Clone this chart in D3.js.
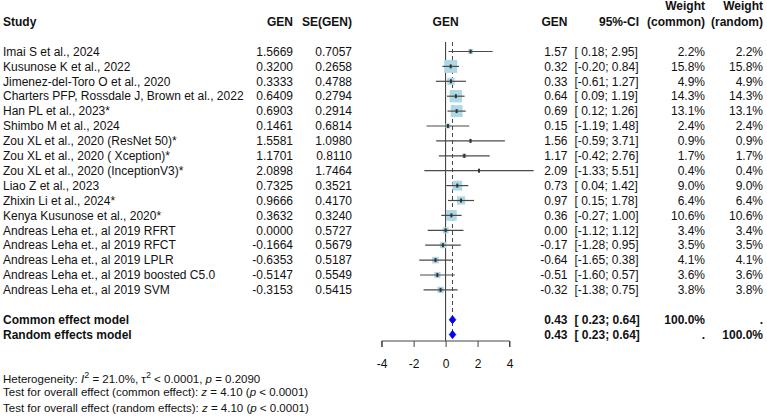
<!DOCTYPE html>
<html>
<head>
<meta charset="utf-8">
<script src="https://cdn.jsdelivr.net/npm/d3@7"></script>
<style>
body { margin: 0; background: #fff; }
svg text { font-family: "Liberation Sans", Arial, sans-serif; fill: #111; }
.b { font-weight: bold; }
</style>
</head>
<body>
<svg id="chart" width="767" height="416"></svg>
<script>
// study data
var studies = ["Imai S et al., 2024", "Kusunose K et al., 2022", "Jimenez-del-Toro O et al., 2020",
    "Charters PFP, Rossdale J, Brown et al., 2022", "Han PL et al., 2023*", "Shimbo M et al., 2024",
    "Zou XL et al., 2020 (ResNet 50)*", "Zou XL et al., 2020 ( Xception)*", "Zou XL et al., 2020 (InceptionV3)*",
    "Liao Z et al., 2023", "Zhixin Li et al., 2024*", "Kenya Kusunose et al., 2020*",
    "Andreas Leha et., al 2019 RFRT", "Andreas Leha et., al 2019 RFCT", "Andreas Leha et., al 2019 LPLR",
    "Andreas Leha et., al 2019 boosted C5.0", "Andreas Leha et., al 2019 SVM"];
var gen = [1.5669, 0.3200, 0.3333, 0.6409, 0.6903, 0.1461, 1.5581, 1.1701, 2.0898,
    0.7325, 0.9666, 0.3632, 0.0000, -0.1664, -0.6353, -0.5147, -0.3153];
var se = [0.7057, 0.2658, 0.4788, 0.2794, 0.2914, 0.6814, 1.0980, 0.8110, 1.7464,
    0.3521, 0.4170, 0.3240, 0.5727, 0.5679, 0.5187, 0.5549, 0.5415];
var lower = [0.18, -0.20, -0.61, 0.09, 0.12, -1.19, -0.59, -0.42, -1.33,
    0.04, 0.15, -0.27, -1.12, -1.28, -1.65, -1.60, -1.38];
var upper = [2.95, 0.84, 1.27, 1.19, 1.26, 1.48, 3.71, 2.76, 5.51,
    1.42, 1.78, 1.00, 1.12, 0.95, 0.38, 0.57, 0.75];
var wCommon = [2.2, 15.8, 4.9, 14.3, 13.1, 2.4, 0.9, 1.7, 0.4, 9.0, 6.4, 10.6, 3.4, 3.5, 4.1, 3.6, 3.8];
var wRandom = [2.2, 15.8, 4.9, 14.3, 13.1, 2.4, 0.9, 1.7, 0.4, 9.0, 6.4, 10.6, 3.4, 3.5, 4.1, 3.6, 3.8];
var models = ["Common effect model", "Random effects model"];
var modelEst = [0.43, 0.43];
var modelLower = [0.23, 0.23];
var modelUpper = [0.64, 0.64];
var modelWCommon = ["100.0%", "."];
var modelWRandom = [".", "100.0%"];
var xTicks = [-4, -2, 0, 2, 4];

var svg = d3.select("#chart");
var f2 = d3.format(".2f");
var f4 = d3.format(".4f");
function fmt(v, f) { return f(v).replace("\u2212", "-"); }
function ci(lo, hi) {
    var a = fmt(lo, f2), b = fmt(hi, f2);
    return "[" + (lo < 0 ? "" : " ") + a + "; " + b + "]";
}

var x = d3.scaleLinear().domain([-4, 4]).range([381.7, 509.5]);
var y = d3.scaleLinear().domain([0, 1]).range([51.5, 66.4]);
var size = d3.scaleSqrt().domain([0, 15.8]).range([0, 13]);

var col = {study: 3, gen: 293, se: 352, gen2: 567.5, ci: 574.5, wc: 705, wr: 763};
var fs = 12;

function txt(xp, yp, s, anchor, bold) {
    return svg.append("text")
        .attr("x", xp).attr("y", yp).attr("dy", "0.35em")
        .attr("text-anchor", anchor || "start")
        .attr("class", bold ? "b" : null)
        .style("font-size", fs + "px")
        .text(s);
}

// headers
txt(col.study, 22, "Study", "start", true);
txt(col.gen, 22, "GEN", "end", true);
txt(col.se, 22, "SE(GEN)", "end", true);
txt(x(0), 22, "GEN", "middle", true);
txt(col.gen2, 22, "GEN", "end", true);
txt(639, 22, "95%-CI", "end", true);
txt(col.wc, 6, "Weight", "end", true);
txt(col.wc, 22, "(common)", "end", true);
txt(col.wr, 6, "Weight", "end", true);
txt(col.wr, 22, "(random)", "end", true);

// reference lines
svg.append("line")
    .attr("x1", x(0)).attr("x2", x(0)).attr("y1", 42).attr("y2", 341)
    .attr("stroke", "#333").attr("stroke-width", 1);
svg.append("line")
    .attr("x1", x(modelEst[0])).attr("x2", x(modelEst[0])).attr("y1", 42).attr("y2", 338)
    .attr("stroke", "#444").attr("stroke-width", 1).attr("stroke-dasharray", "4,3");

// study rows
studies.forEach(function (s, i) {
    var yc = y(i);
    txt(col.study, yc, s);
    txt(col.gen, yc, fmt(gen[i], f4), "end");
    txt(col.se, yc, fmt(se[i], f4), "end");
    txt(col.gen2, yc, fmt(gen[i], f2), "end");
    txt(col.ci, yc, ci(lower[i], upper[i]), "start");
    txt(col.wc, yc, wCommon[i].toFixed(1) + "%", "end");
    txt(col.wr, yc, wRandom[i].toFixed(1) + "%", "end");

    var sz = size(wCommon[i]);
    svg.append("rect")
        .attr("x", x(gen[i]) - sz / 2).attr("y", yc - sz / 2)
        .attr("width", sz).attr("height", sz)
        .attr("fill", "#add8e6");
    svg.append("line")
        .attr("x1", x(lower[i])).attr("x2", x(upper[i]))
        .attr("y1", yc).attr("y2", yc)
        .attr("stroke", "#4a4a4a").attr("stroke-width", 1.2);
    svg.append("rect")
        .attr("x", x(gen[i]) - 1).attr("y", yc - 2)
        .attr("width", 2).attr("height", 4)
        .attr("fill", "#333");
});

// pooled estimates
models.forEach(function (m, j) {
    var yc = y(studies.length + 1 + j);
    txt(col.study, yc, m, "start", true);
    txt(col.gen2, yc, fmt(modelEst[j], f2), "end", true);
    txt(col.ci, yc, ci(modelLower[j], modelUpper[j]), "start", true);
    txt(col.wc, yc, modelWCommon[j], "end", true);
    txt(col.wr, yc, modelWRandom[j], "end", true);
    var pts = [[x(modelLower[j]), yc], [x(modelEst[j]), yc - 4], [x(modelUpper[j]), yc], [x(modelEst[j]), yc + 4]];
    svg.append("polygon")
        .attr("points", pts.map(function (p) { return p.join(","); }).join(" "))
        .attr("fill", "#0000ff").attr("stroke", "#0000cc").attr("stroke-width", 0.8);
});

// x axis
var axis = svg.append("g")
    .attr("transform", "translate(0,341)")
    .call(d3.axisBottom(x).tickValues(xTicks).tickSize(6).tickPadding(12).tickFormat(function (d) { return d; }));
axis.select(".domain").attr("stroke", "#444").attr("d", "M" + x(-4) + ",6V0H" + x(4) + "V6");
axis.selectAll(".tick line").attr("stroke", "#444");
axis.selectAll(".tick text")
    .style("font-family", "'Liberation Sans', Arial, sans-serif")
    .style("font-size", "12px").attr("fill", "#111");

// footer statistics
var fs2 = 11.5;
function foot(yp, parts) {
    var t = svg.append("text").attr("x", 3).attr("y", yp).attr("dy", "0.35em")
        .style("font-size", fs2 + "px");
    parts.forEach(function (p) {
        var sp = t.append("tspan").text(p.t);
        if (p.i) sp.style("font-style", "italic");
        if (p.sup) sp.attr("baseline-shift", "super").style("font-size", "9px");
    });
}
foot(378.5, [{t: "Heterogeneity: "}, {t: "I", i: true}, {t: "2", sup: true}, {t: " = 21.0%, \u03c4"}, {t: "2", sup: true},
    {t: " < 0.0001, "}, {t: "p", i: true}, {t: " = 0.2090"}]);
foot(392, [{t: "Test for overall effect (common effect): "}, {t: "z", i: true}, {t: " = 4.10 ("}, {t: "p", i: true}, {t: " < 0.0001)"}]);
foot(407.5, [{t: "Test for overall effect (random effects): "}, {t: "z", i: true}, {t: " = 4.10 ("}, {t: "p", i: true}, {t: " < 0.0001)"}]);
</script>
</body>
</html>
